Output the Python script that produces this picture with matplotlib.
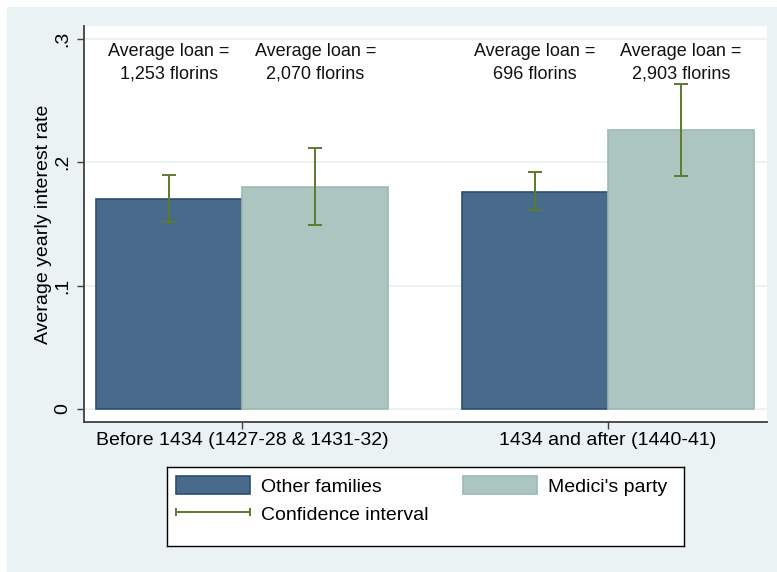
import numpy as np
import matplotlib.pyplot as plt
from matplotlib.patches import Rectangle, Patch
from matplotlib.lines import Line2D
from matplotlib.legend_handler import HandlerLine2D

plt.rcParams['font.family'] = ['Liberation Sans', 'DejaVu Sans']

groups = ['Before 1434 (1427-28 & 1431-32)', '1434 and after (1440-41)']
other_rate = [0.1705, 0.1762]
medici_rate = [0.1802, 0.2260]
other_ci_lo = [0.1516, 0.1611]
other_ci_hi = [0.1900, 0.1921]
medici_ci_lo = [0.1494, 0.1889]
medici_ci_hi = [0.2114, 0.2635]
other_loan = ['1,253', '696']
medici_loan = ['2,070', '2,903']

dark = '#486a8b'
dark_edge = '#2b4f72'
light = '#adc5c1'
light_edge = '#9cbab4'
ci_green = '#5b7b2f'
bg = '#eaf2f3'

W, H = 777, 572
fig = plt.figure(figsize=(W / 100, H / 100), dpi=100, facecolor='white')
fig.patches.append(Rectangle((7 / W, 0), 1, (H - 7) / H, transform=fig.transFigure,
                             facecolor=bg, edgecolor='none', zorder=-10))

ax = fig.add_axes([84 / W, 1 - 422 / H, (767 - 84) / W, (422 - 26) / H])
ax.set_facecolor('white')

centers = np.array([0.0, 2.5])
x_other = centers - 0.5
x_medici = centers + 0.5

ax.bar(x_other, other_rate, width=1.0, color=dark, edgecolor=dark_edge, linewidth=1.2, zorder=2)
ax.bar(x_medici, medici_rate, width=1.0, color=light, edgecolor=light_edge, linewidth=1.2, zorder=2)

def ci(rate, lo, hi):
    rate, lo, hi = map(np.array, (rate, lo, hi))
    return [rate - lo, hi - rate]

ax.errorbar(x_other, other_rate, yerr=ci(other_rate, other_ci_lo, other_ci_hi), fmt='none',
            ecolor=ci_green, elinewidth=1.4, capsize=5, capthick=1.4, zorder=3)
ax.errorbar(x_medici, medici_rate, yerr=ci(medici_rate, medici_ci_lo, medici_ci_hi), fmt='none',
            ecolor=ci_green, elinewidth=1.4, capsize=5, capthick=1.4, zorder=3)

# loan size notes above each bar
for xs, loans in ((x_other, other_loan), (x_medici, medici_loan)):
    for x, loan in zip(xs, loans):
        ax.text(x, 0.2805, 'Average loan =\n' + loan + ' florins', ha='center', va='center',
                fontsize=13, linespacing=1.42, color='#111111')

ax.set_xlim(-1.082, 3.589)
ax.set_ylim(-0.0105, 0.3105)
ax.set_yticks([0, 0.1, 0.2, 0.3])
ax.set_yticklabels(['0', '.1', '.2', '.3'], rotation=90, va='center', fontsize=14)
ax.set_xticks(centers)
ax.set_xticklabels(groups, fontsize=14)
ax.tick_params(axis='both', length=5, width=1, color='#404040', pad=4)
ax.tick_params(axis='x', pad=2.5)
ax.set_ylabel('Average yearly interest rate', fontsize=14, labelpad=2)

ax.grid(axis='y', color=bg, linewidth=1.5)
ax.set_axisbelow(True)
for side in ('top', 'right'):
    ax.spines[side].set_visible(False)
for side in ('left', 'bottom'):
    ax.spines[side].set_color('#404040')
    ax.spines[side].set_linewidth(1.3)

# legend in its own framed box
lax = fig.add_axes([166.5 / W, 1 - 546 / H, (684 - 166.5) / W, (546 - 467) / H])
lax.set_xticks([])
lax.set_yticks([])
lax.set_facecolor('white')
for s in lax.spines.values():
    s.set_color('black')
    s.set_linewidth(1)

ci_handle = Line2D([0], [0], color=ci_green, linewidth=1.4, marker='|', markersize=6,
                   markeredgewidth=1.4, label='Confidence interval')
handles = [
    Patch(facecolor=dark, edgecolor=dark_edge, linewidth=1.2, label='Other families'),
    ci_handle,
    Patch(facecolor=light, edgecolor=light_edge, linewidth=1.2, label="Medici's party"),
]
lax.legend(handles=handles, ncol=2, loc='upper left', frameon=False, fontsize=14,
           handlelength=3.8, handleheight=1.0, handletextpad=0.58, columnspacing=1.8,
           labelspacing=0.45, borderpad=0.47, borderaxespad=0,
           handler_map={ci_handle: HandlerLine2D(marker_pad=0, numpoints=2)})

fig.savefig('out.png', dpi=100, facecolor='white')
